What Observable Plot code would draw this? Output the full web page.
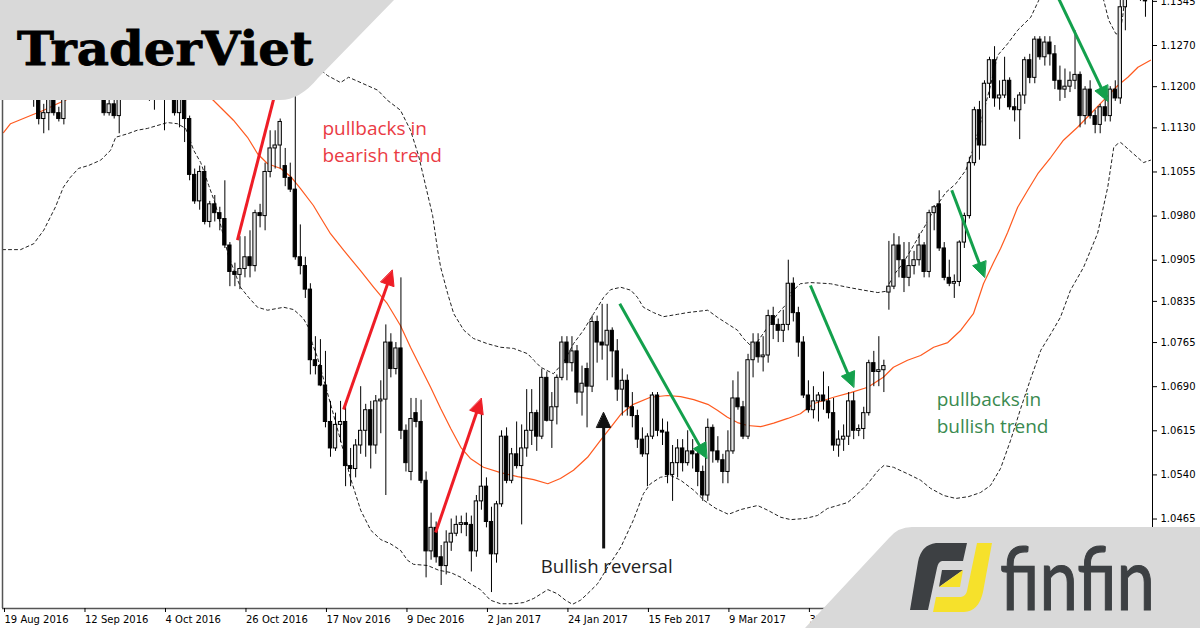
<!DOCTYPE html>
<html><head><meta charset="utf-8">
<script src="https://cdn.jsdelivr.net/npm/d3@7"></script>
<script src="https://cdn.jsdelivr.net/npm/@observablehq/plot@0.6"></script>
<style>
html,body{margin:0;padding:0;background:#fff;}
#wrap{position:relative;width:1200px;height:628px;overflow:hidden;background:#fff;}
#wrap svg.overlay{position:absolute;left:0;top:0;}
</style></head><body><div id="wrap"></div>
<script>
// ---- daily EURUSD candles (bar index 0 = 19 Aug 2016) ----
const open = [1.1350,1.1325,1.1320,1.1305,1.1265,1.1285,1.1195,1.1190,1.1145,1.1155,
1.1195,1.1155,1.1145,1.1255,1.1235,1.1260,1.1230,1.1235,1.1220,1.1245,
1.1240,1.1155,1.1170,1.1150,1.1190,1.1210,1.1225,1.1255,1.1210,1.1215,
1.1220,1.1240,1.1210,1.1205,1.1200,1.1155,1.1200,1.1145,1.1050,1.1005,
1.1055,1.0970,1.1000,1.0985,1.0975,1.0930,1.0885,1.0880,1.0890,1.0910,
1.0895,1.0985,1.0980,1.1055,1.1095,1.1100,1.1065,1.1045,1.1025,1.0910,
1.0895,1.0855,1.0735,1.0725,1.0692,1.0630,1.0585,1.0625,1.0630,1.0555,
1.0550,1.0590,1.0615,1.0650,1.0590,1.0665,1.0668,1.0765,1.0720,1.0755,
1.0615,1.0545,1.0645,1.0630,1.0530,1.0410,1.0450,1.0400,1.0385,1.0425,
1.0440,1.0455,1.0458,1.0455,1.0410,1.0495,1.0520,1.0460,1.0405,1.0490,
1.0605,1.0530,1.0575,1.0555,1.0585,1.0615,1.0645,1.0605,1.0705,1.0632,
1.0655,1.0705,1.0765,1.0730,1.0750,1.0680,1.0720,1.0690,1.0800,1.0765,
1.0760,1.0785,1.0750,1.0685,1.0700,1.0655,1.0640,1.0600,1.0575,1.0605,
1.0675,1.0615,1.0612,1.0540,1.0560,1.0585,1.0560,1.0580,1.0575,1.0545,
1.0505,1.0620,1.0580,1.0565,1.0545,1.0580,1.0670,1.0655,1.0605,1.0735,
1.0765,1.0740,1.0743,1.0810,1.0795,1.0785,1.0795,1.0865,1.0815,1.0765,
1.0675,1.0650,1.0665,1.0675,1.0665,1.0645,1.0590,1.0600,1.0605,1.0665,
1.0615,1.0618,1.0645,1.0730,1.0715,1.0718,1.0850,1.0860,1.0930,1.0905,
1.0875,1.0895,1.0905,1.0930,1.0885,1.0985,1.1000,1.0925,1.0875,1.0865,
1.0868,1.0935,1.0980,1.1070,1.1160,1.1100,1.1205,1.1245,1.1180,1.1185,
1.1210,1.1165,1.1160,1.1185,1.1245,1.1215,1.1280,1.1250,1.1275,1.1255,
1.1210,1.1195,1.1200,1.1210,1.1220,1.1150,1.1195,1.1150,1.1135,1.1165,
1.1150,1.1195,1.1180,1.1335,1.1375,1.1440,1.1425,1.1360];
const high = [1.1365,1.1335,1.1350,1.1315,1.1300,1.1340,1.1205,1.1195,1.1170,1.1200,
1.1235,1.1165,1.1265,1.1270,1.1285,1.1275,1.1250,1.1255,1.1260,1.1265,
1.1250,1.1195,1.1205,1.1215,1.1255,1.1230,1.1260,1.1260,1.1240,1.1235,
1.1250,1.1250,1.1245,1.1235,1.1215,1.1205,1.1215,1.1150,1.1060,1.1065,
1.1065,1.1005,1.1015,1.0995,1.1040,1.0935,1.0900,1.0945,1.0945,1.0955,
1.0990,1.1000,1.1070,1.1125,1.1125,1.1145,1.1095,1.1070,1.1300,1.0965,
1.0910,1.0865,1.0775,1.0770,1.0750,1.0665,1.0645,1.0665,1.0660,1.0585,
1.0600,1.0690,1.0660,1.0665,1.0675,1.0700,1.0795,1.0780,1.0765,1.0875,
1.0625,1.0670,1.0670,1.0667,1.0545,1.0475,1.0460,1.0420,1.0445,1.0465,
1.0470,1.0470,1.0475,1.0470,1.0505,1.0655,1.0535,1.0485,1.0495,1.0615,
1.0620,1.0585,1.0630,1.0625,1.0685,1.0685,1.0650,1.0720,1.0715,1.0680,
1.0710,1.0775,1.0775,1.0775,1.0760,1.0725,1.0730,1.0810,1.0810,1.0830,
1.0830,1.0790,1.0770,1.0720,1.0710,1.0680,1.0650,1.0620,1.0610,1.0680,
1.0680,1.0635,1.0630,1.0590,1.0600,1.0600,1.0615,1.0600,1.0580,1.0555,
1.0635,1.0625,1.0605,1.0575,1.0615,1.0700,1.0715,1.0665,1.0745,1.0780,
1.0780,1.0775,1.0820,1.0825,1.0805,1.0820,1.0905,1.0875,1.0825,1.0775,
1.0700,1.0690,1.0680,1.0715,1.0690,1.0670,1.0615,1.0625,1.0680,1.0680,
1.0625,1.0655,1.0735,1.0750,1.0775,1.0735,1.0937,1.0950,1.0945,1.0935,
1.0935,1.0920,1.0950,1.0935,1.0990,1.0998,1.1023,1.0935,1.0905,1.0880,
1.0938,1.0985,1.1080,1.1165,1.1175,1.1210,1.1250,1.1268,1.1210,1.1250,
1.1215,1.1180,1.1190,1.1250,1.1255,1.1285,1.1285,1.1285,1.1285,1.1270,
1.1235,1.1230,1.1225,1.1295,1.1225,1.1200,1.1210,1.1160,1.1170,1.1185,
1.1200,1.1210,1.1350,1.1390,1.1445,1.1445,1.1430,1.1370];
const low = [1.1310,1.1290,1.1300,1.1255,1.1255,1.1185,1.1165,1.1135,1.1120,1.1125,
1.1150,1.1140,1.1135,1.1225,1.1210,1.1210,1.1215,1.1210,1.1215,1.1220,
1.1150,1.1150,1.1145,1.1120,1.1185,1.1200,1.1215,1.1195,1.1180,1.1175,
1.1160,1.1200,1.1125,1.1190,1.1150,1.1130,1.1105,1.1040,1.1000,1.0990,
1.0965,1.0960,1.0970,1.0955,1.0925,1.0860,1.0860,1.0855,1.0875,1.0875,
1.0885,1.0960,1.0955,1.1045,1.1060,1.1060,1.1030,1.1020,1.0905,1.0880,
1.0840,1.0710,1.0710,1.0690,1.0620,1.0570,1.0580,1.0595,1.0520,1.0520,
1.0535,1.0575,1.0570,1.0550,1.0575,1.0610,1.0505,1.0705,1.0710,1.0600,
1.0545,1.0530,1.0620,1.0525,1.0365,1.0395,1.0390,1.0352,1.0370,1.0410,
1.0435,1.0440,1.0435,1.0375,1.0400,1.0480,1.0450,1.0340,1.0390,1.0485,
1.0525,1.0525,1.0550,1.0455,1.0570,1.0590,1.0580,1.0600,1.0630,1.0585,
1.0625,1.0700,1.0700,1.0715,1.0660,1.0640,1.0620,1.0680,1.0730,1.0735,
1.0700,1.0705,1.0665,1.0640,1.0640,1.0620,1.0585,1.0570,1.0520,1.0600,
1.0605,1.0590,1.0525,1.0495,1.0535,1.0545,1.0555,1.0550,1.0520,1.0495,
1.0495,1.0560,1.0560,1.0525,1.0525,1.0575,1.0650,1.0600,1.0600,1.0705,
1.0730,1.0715,1.0730,1.0770,1.0765,1.0765,1.0785,1.0800,1.0740,1.0670,
1.0645,1.0635,1.0630,1.0650,1.0635,1.0580,1.0570,1.0580,1.0590,1.0600,
1.0605,1.0600,1.0640,1.0690,1.0690,1.0680,1.0820,1.0855,1.0875,1.0850,
1.0860,1.0880,1.0895,1.0875,1.0875,1.0955,1.0920,1.0870,1.0860,1.0840,
1.0860,1.0925,1.0975,1.1065,1.1075,1.1100,1.1180,1.1165,1.1160,1.1180,
1.1160,1.1140,1.1110,1.1170,1.1205,1.1205,1.1245,1.1235,1.1235,1.1195,
1.1175,1.1180,1.1190,1.1195,1.1130,1.1135,1.1145,1.1120,1.1120,1.1140,
1.1140,1.1175,1.1170,1.1295,1.1370,1.1390,1.1345,1.1318];
const close = [1.1325,1.1320,1.1305,1.1265,1.1285,1.1195,1.1190,1.1145,1.1155,1.1195,
1.1155,1.1145,1.1255,1.1235,1.1260,1.1230,1.1235,1.1220,1.1245,1.1240,
1.1155,1.1170,1.1150,1.1190,1.1210,1.1225,1.1255,1.1210,1.1215,1.1220,
1.1240,1.1210,1.1205,1.1200,1.1155,1.1200,1.1145,1.1050,1.1005,1.1055,
1.0970,1.1000,1.0985,1.0975,1.0930,1.0885,1.0880,1.0890,1.0910,1.0895,
1.0985,1.0980,1.1055,1.1095,1.1100,1.1140,1.1045,1.1025,1.0910,1.0895,
1.0855,1.0735,1.0725,1.0692,1.0630,1.0585,1.0625,1.0630,1.0555,1.0550,
1.0590,1.0615,1.0650,1.0590,1.0665,1.0668,1.0765,1.0720,1.0755,1.0615,
1.0560,1.0635,1.0630,1.0530,1.0410,1.0450,1.0400,1.0385,1.0425,1.0440,
1.0455,1.0458,1.0455,1.0410,1.0495,1.0520,1.0460,1.0405,1.0490,1.0605,
1.0530,1.0575,1.0555,1.0585,1.0615,1.0645,1.0605,1.0705,1.0632,1.0655,
1.0705,1.0765,1.0730,1.0750,1.0680,1.0695,1.0690,1.0800,1.0765,1.0760,
1.0785,1.0750,1.0685,1.0700,1.0655,1.0640,1.0600,1.0575,1.0605,1.0675,
1.0615,1.0612,1.0540,1.0560,1.0585,1.0560,1.0580,1.0575,1.0545,1.0505,
1.0620,1.0580,1.0565,1.0545,1.0580,1.0670,1.0655,1.0605,1.0735,1.0765,
1.0740,1.0743,1.0810,1.0795,1.0785,1.0795,1.0865,1.0815,1.0765,1.0675,
1.0650,1.0665,1.0675,1.0665,1.0645,1.0590,1.0600,1.0605,1.0665,1.0615,
1.0618,1.0645,1.0730,1.0715,1.0718,1.0725,1.0860,1.0930,1.0905,1.0875,
1.0895,1.0905,1.0930,1.0885,1.0985,1.0995,1.0925,1.0875,1.0865,1.0868,
1.0935,1.0980,1.1070,1.1160,1.1100,1.1205,1.1245,1.1180,1.1185,1.1210,
1.1165,1.1160,1.1185,1.1245,1.1215,1.1280,1.1250,1.1275,1.1255,1.1210,
1.1195,1.1200,1.1210,1.1220,1.1150,1.1195,1.1150,1.1135,1.1165,1.1150,
1.1195,1.1180,1.1335,1.1375,1.1440,1.1425,1.1360,1.1345];

// ---- tick labels (later dates sit under the logo in the reference) ----
const dateTickIndex = [0,16,32,48,64,80,96,112,128,144,160];
const dateLabels = ["19 Aug 2016","12 Sep 2016","4 Oct 2016","26 Oct 2016","17 Nov 2016","9 Dec 2016",
  "2 Jan 2017","24 Jan 2017","15 Feb 2017","9 Mar 2017","31 Mar 2017"];
const priceTicks = [1.1345,1.1270,1.1200,1.1130,1.1055,1.0980,1.0905,1.0835,1.0765,1.0690,1.0615,1.0540,1.0465];

// ---- indicator lines: [bar index, price] ----
const maLine = [[0,1.1122],[1.4,1.1137],[5.4,1.1151],[8,1.1160],[10.7,1.1171],[12.3,1.1177],[17.3,1.1197],[23.3,1.1214],
[29.2,1.1219],[35.2,1.1211],[39.2,1.1194],[41.7,1.1177],[45.7,1.1143],[48.5,1.1114],[50.5,1.1086],[52.5,1.1069],
[55.1,1.1061],[57.1,1.1047],[59,1.1027],[61.6,1.0998],[63,1.0978],[65,1.0950],[67.6,1.0922],[71,1.0887],[73.6,1.0859],
[76.3,1.0831],[78.9,1.0794],[80.9,1.0757],[82.9,1.0723],[84.9,1.0689],[86.9,1.0653],[88.9,1.0619],[90.9,1.0587],
[92.8,1.0568],[95.4,1.0553],[98.8,1.0544],[102.2,1.0537],[105.4,1.0532],[108.2,1.0525],[110.7,1.0534],[113.3,1.0548],
[116.1,1.0570],[118.7,1.0599],[120.7,1.0621],[122.7,1.0643],[125.2,1.0660],[128.6,1.0672],[132,1.0675],[134.6,1.0673],
[137.2,1.0668],[140,1.0660],[141.9,1.0650],[143.9,1.0638],[145.9,1.0629],[147.9,1.0624],[150.5,1.0622],[153.1,1.0628],
[155.9,1.0636],[158.4,1.0644],[161,1.0661],[165,1.0672],[168.4,1.0680],[171.8,1.0689],[174.9,1.0706],[176.9,1.0723],
[179.7,1.0735],[182.3,1.0743],[184.9,1.0757],[187.7,1.0765],[190.3,1.0786],[192.8,1.0814],[194.8,1.0865],[196.8,1.0901],
[198.2,1.0925],[199.6,1.0952],[201.6,1.0995],[203.6,1.1024],[205.6,1.1052],[208.2,1.1080],[210.7,1.1109],[213.5,1.1131],
[216.1,1.1154],[218.7,1.1177],[221.5,1.1202],[223.5,1.1216],[225.5,1.1233],[228,1.1245]];
const upperBand = [[0,1.1287],[7.4,1.1296],[15.3,1.1299],[23.3,1.1287],[31.2,1.1270],[37.2,1.1262],[43.1,1.1262],[49.1,1.1265],
[55.1,1.1270],[59,1.1262],[62,1.1236],[64.4,1.1219],[67,1.1207],[68.6,1.1216],[71,1.1207],[74.4,1.1194],[76.3,1.1177],
[78.9,1.1160],[80.9,1.1126],[82.5,1.1083],[83.9,1.1032],[85.3,1.0981],[86.3,1.0922],[86.9,1.0893],[88.3,1.0848],
[89.5,1.0814],[91.5,1.0786],[93.4,1.0772],[96.2,1.0763],[98.8,1.0757],[101.4,1.0755],[104.2,1.0746],[105.4,1.0735],
[106.8,1.0723],[109.3,1.0712],[111.3,1.0731],[113.3,1.0763],[115.3,1.0786],[117.3,1.0814],[119.3,1.0842],[120.7,1.0855],
[122.7,1.0859],[124.7,1.0854],[126,1.0842],[127.2,1.0825],[129.2,1.0816],[131.2,1.0809],[134,1.0813],[136,1.0816],
[138,1.0818],[140,1.0820],[141.9,1.0808],[143.9,1.0797],[145.9,1.0786],[147.1,1.0772],[148.5,1.0760],[149.9,1.0767],
[151.9,1.0791],[153.9,1.0814],[155.9,1.0833],[156.5,1.0850],[158.4,1.0865],[160.4,1.0867],[164.4,1.0865],[167.8,1.0859],
[171,1.0854],[173.8,1.0850],[175.3,1.0852],[176.9,1.0879],[178.9,1.0901],[180.9,1.0930],[182.9,1.0959],[184.9,1.0990],
[187.3,1.1020],[189.3,1.1035],[191.3,1.1058],[192.8,1.1095],[194.8,1.1156],[196.2,1.1202],[197.6,1.1253],[199.6,1.1273],
[201.6,1.1296],[204.2,1.1318],[205.8,1.1347],[208.2,1.1367],[211.1,1.1381],[214.1,1.1377],[216.7,1.1360],[218.7,1.1347],
[219.7,1.1313],[221.1,1.1290],[221.9,1.1289],[222.5,1.1321],[223.5,1.1398],[225.5,1.1483],[228,1.1568]];
const lowerBand = [[-0.2,1.0923],[3.4,1.0923],[6,1.0933],[8,1.0956],[10.3,1.0995],[11.9,1.1029],[13.3,1.1046],[14.9,1.1061],
[16.9,1.1066],[19.3,1.1075],[21.3,1.1092],[22.3,1.1114],[24.7,1.1120],[26.6,1.1126],[28.6,1.1129],[30.6,1.1134],
[32.6,1.1139],[34.6,1.1137],[36.2,1.1129],[37.8,1.1092],[39.2,1.1071],[40.8,1.1032],[42.1,1.1001],[44.7,1.0913],
[47.1,1.0859],[48.7,1.0842],[50.5,1.0825],[52.5,1.0820],[55.7,1.0825],[57.7,1.0821],[59.6,1.0806],[60.6,1.0791],
[61.4,1.0763],[62.4,1.0740],[65,1.0661],[67,1.0599],[69,1.0534],[71,1.0480],[73,1.0446],[75,1.0430],[76.9,1.0423],
[78.9,1.0412],[80.3,1.0395],[81.5,1.0388],[84.3,1.0386],[86.5,1.0378],[88.9,1.0374],[90.9,1.0366],[92.8,1.0355],
[94.8,1.0345],[96.8,1.0327],[98.8,1.0321],[101.4,1.0321],[103.4,1.0323],[105.4,1.0330],[108.2,1.0345],[110.1,1.0338],
[111.7,1.0327],[113.1,1.0320],[114.7,1.0327],[116.1,1.0338],[118.1,1.0355],[120.1,1.0383],[122.7,1.0417],[125.2,1.0463],
[127.2,1.0508],[128.6,1.0525],[130.6,1.0536],[132.6,1.0539],[134.6,1.0531],[137.2,1.0514],[139.2,1.0497],[141.6,1.0483],
[144.1,1.0473],[146.5,1.0481],[149.9,1.0488],[151.9,1.0480],[154.5,1.0468],[156.5,1.0464],[159.4,1.0466],[161.8,1.0471],
[163.8,1.0483],[165.8,1.0488],[167.8,1.0493],[169.8,1.0508],[171.8,1.0525],[173.8,1.0547],[175,1.0556],[176.9,1.0553],
[179.7,1.0542],[182.3,1.0531],[184.3,1.0517],[186.9,1.0505],[189.3,1.0500],[191.8,1.0503],[194.2,1.0510],[196.2,1.0522],
[198.2,1.0551],[200.2,1.0599],[202.2,1.0653],[204.2,1.0704],[206.2,1.0752],[208.2,1.0780],[210.1,1.0808],[212.1,1.0854],
[214.7,1.0893],[217.5,1.0951],[219.5,1.1029],[220.7,1.1097],[221.5,1.1103],[222.1,1.1105],[224.6,1.1086],[226.6,1.1071],[228,1.1075]];

// ---- annotations (bar index, price) ----
const arrows = [
  {id:"r1", x1:46.5, y1:1.0939, x2:54.9, y2:1.1219, color:"#ee1d26"},
  {id:"r2", x1:67.6, y1:1.0651, x2:77.3, y2:1.0888, color:"#ee1d26"},
  {id:"r3", x1:85.9, y1:1.0442, x2:95.0, y2:1.0670, color:"#ee1d26"},
  {id:"g1", x1:122.5, y1:1.0831, x2:139.8, y2:1.0568, color:"#13a04c"},
  {id:"g2", x1:160.4, y1:1.0862, x2:169.0, y2:1.0689, color:"#13a04c"},
  {id:"g3", x1:188.5, y1:1.1024, x2:195.0, y2:1.0876, color:"#13a04c"},
  {id:"g4", x1:208.5, y1:1.1372, x2:219.5, y2:1.1175, color:"#13a04c"},
  {id:"k1", x1:119.3, y1:1.0415, x2:119.3, y2:1.0646, color:"#111111"}
];
const notes = [
  {x:63.4, y:1.1129, text:"pullbacks in", color:"#ea3b44", size:19},
  {x:63.4, y:1.1083, text:"bearish trend", color:"#ea3b44", size:19},
  {x:185.5, y:1.0668, text:"pullbacks in", color:"#3a8a4f", size:19},
  {x:185.5, y:1.0622, text:"bullish trend", color:"#3a8a4f", size:19},
  {x:106.8, y:1.0384, text:"Bullish reversal", color:"#222222", size:18.6}
];

// ---- build ----
const W = 1200, H = 628, mL = 2, mR = 48, mT = 0, mB = 20;
const xDomain = [-0.2, 228.4];
const yDomain = [1.03129, 1.13465];
const kx = (W - mL - mR) / (xDomain[1] - xDomain[0]);
const ky = (H - mT - mB) / (yDomain[1] - yDomain[0]);

const candles = open.map((o, i) => ({i, o, h: high[i], l: low[i], c: close[i]}));
const bull = candles.filter(d => d.c >= d.o);
const bear = candles.filter(d => d.c < d.o);
const toPts = arr => arr.map(([i, p]) => ({i, p}));

const L = 15, HW = 7;
const shafts = [], heads = [];
for (const a of arrows) {
  const dxp = (a.x2 - a.x1) * kx, dyp = -(a.y2 - a.y1) * ky;
  const len = Math.hypot(dxp, dyp), ux = dxp / len, uy = dyp / len;
  const nx = -uy, ny = ux;
  const bx = -(L - 2) * ux, by = -(L - 2) * uy;
  shafts.push({x1: a.x1, y1: a.y1, x2: a.x2 + bx / kx, y2: a.y2 - by / ky, color: a.color});
  const pts = [[0, 0], [-L * ux + HW * nx, -L * uy + HW * ny], [-L * ux - HW * nx, -L * uy - HW * ny]];
  for (const [px, py] of pts) heads.push({id: a.id, x: a.x2 + px / kx, y: a.y2 - py / ky, color: a.color});
}
const labelOf = new Map(dateTickIndex.map((t, k) => [t, dateLabels[k]]));

const chart = Plot.plot({
  width: W, height: H, marginLeft: mL, marginRight: mR, marginTop: mT, marginBottom: mB,
  x: {type: "linear", domain: xDomain, axis: null},
  y: {type: "linear", domain: yDomain, axis: null},
  color: {type: "identity"},
  style: {fontFamily: "DejaVu Sans", fontSize: "10px", background: "#fff", color: "#000"},
  marks: [
    Plot.line(toPts(upperBand), {x: "i", y: "p", stroke: "#222", strokeWidth: 1, strokeDasharray: "3,3", clip: true}),
    Plot.line(toPts(lowerBand), {x: "i", y: "p", stroke: "#222", strokeWidth: 1, strokeDasharray: "3,3", clip: true}),
    Plot.line(toPts(maLine), {x: "i", y: "p", stroke: "#ff5a1f", strokeWidth: 1.2, clip: true}),
    Plot.ruleX(candles, {x: "i", y1: "l", y2: "h", stroke: "#000", strokeWidth: 1, clip: true}),
    Plot.rect(bull, {x1: d => d.i - 0.33, x2: d => d.i + 0.33, y1: "o", y2: "c", fill: "#e6e6e6", stroke: "#000", strokeWidth: 1, clip: true}),
    Plot.rect(bear, {x1: d => d.i - 0.33, x2: d => d.i + 0.33, y1: "o", y2: "c", fill: "#000", stroke: "#000", strokeWidth: 1, clip: true}),
    Plot.link(shafts, {x1: "x1", y1: "y1", x2: "x2", y2: "y2", stroke: "color", strokeWidth: 3, clip: true}),
    Plot.line(heads, {x: "x", y: "y", z: "id", fill: "color", stroke: "color", strokeWidth: 1, curve: "linear-closed", clip: true}),
    Plot.text(notes, {x: "x", y: "y", text: "text", fill: "color", fontSize: "size", fontFamily: "Open Sans", textAnchor: "start"}),
    Plot.ruleX([xDomain[0]], {stroke: "#555", strokeWidth: 1.5}),
    Plot.ruleY([yDomain[0]], {stroke: "#555", strokeWidth: 1.5}),
    Plot.ruleX([xDomain[1]], {stroke: "#000", strokeWidth: 1}),
    Plot.axisY(priceTicks, {anchor: "right", tickSize: 4, tickPadding: 4, tickFormat: d => d.toFixed(4), fontSize: 10}),
    Plot.axisX(dateTickIndex, {anchor: "bottom", tickSize: 4, tickPadding: 3, tickFormat: d => labelOf.get(d), textAnchor: "start", dx: 1, fontSize: 10})
  ]
});
const wrap = document.getElementById("wrap");
wrap.appendChild(chart);

const ns = "http://www.w3.org/2000/svg";
const ov = document.createElementNS(ns, "svg");
ov.setAttribute("class", "overlay");
ov.setAttribute("width", W); ov.setAttribute("height", H);
ov.innerHTML = `
 <path d="M0 0 H394 L318 78 Q300 100 280 100 H0 Z" fill="#d9d9d9"/>
 <text x="17" y="65" font-family="DejaVu Serif" font-weight="bold" font-size="46" textLength="296" lengthAdjust="spacingAndGlyphs" fill="#000" stroke="#000" stroke-width="0.8">TraderViet</text>
 <path d="M1200 527 H912 Q898 527 889 538 L805 628 H1200 Z" fill="#d9d9d9"/>
 <path d="M910 610 L918 562 Q921 545 936 543 L967 543 L963 561 L942 561 Q938 562 937 568 L928 610 Z" fill="#3d4043"/>
 <path d="M942 570 L963 570 L939 587 Z" fill="#3d4043"/>
 <path d="M963 570 L960 587 L939 587 Z" fill="#f6e12b"/>
 <path d="M977 543 L992 543 L983 592 Q979 611 964 612 L933 612 L936 597 L961 597 Q966 596 967 591 Z" fill="#f6e12b"/>
 <text x="1000" y="610" font-family="Lato" font-size="88" textLength="155" lengthAdjust="spacingAndGlyphs" fill="#3d4043" stroke="#3d4043" stroke-width="1.2">finfin</text>`;
wrap.appendChild(ov);
</script></body></html>
